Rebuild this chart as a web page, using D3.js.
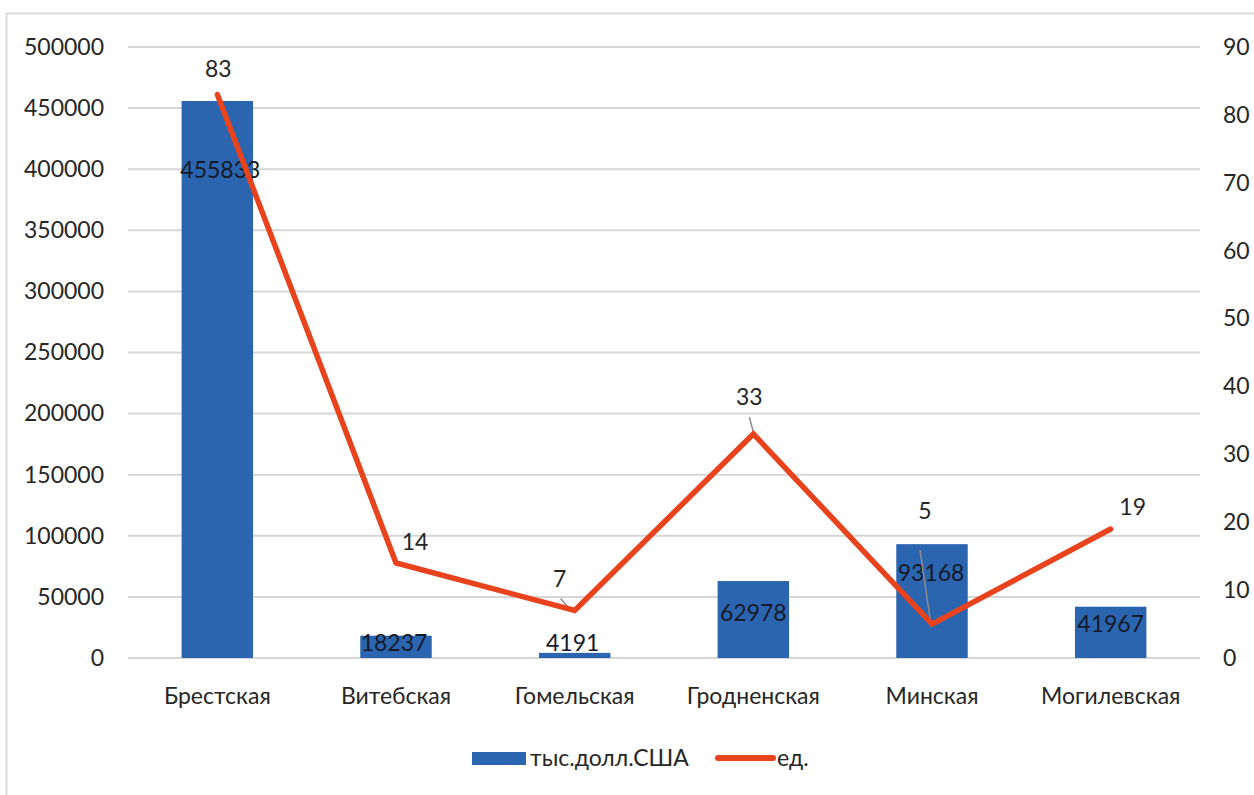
<!DOCTYPE html>
<html><head><meta charset="utf-8">
<script src="https://cdn.jsdelivr.net/npm/d3@7"></script>
<style>body{margin:0;background:#fff}svg{display:block}text{font-family:Lato,"Open Sans",sans-serif;fill:#262626}</style>
</head><body>
<script>
const categories = ["Брестская","Витебская","Гомельская","Гродненская","Минская","Могилевская"];
const usdValues = [455833, 18237, 4191, 62978, 93168, 41967];
const unitValues = [83, 14, 7, 33, 5, 19];
const leftTicks = [0,50000,100000,150000,200000,250000,300000,350000,400000,450000,500000];
const rightTicks = [0,10,20,30,40,50,60,70,80,90];
const seriesNames = ["тыс.долл.США","ед."];

// label layout (pixel offsets of manually placed data labels)
const barLabelDy = [69, 7, -10, 32, 29, 17];
const barLabelDx = [3, -2, -2, 0, -1, 0];
const lineLabelDx = [1, 19, -15, -4, -7, 22];
const lineLabelDy = [-26, -21, -32, -37, -113, -22];

const W = 1254, H = 795;
const svg = d3.select("body").append("svg").attr("width", W).attr("height", H);
svg.append("rect").attr("x",6.5).attr("y",13.5).attr("width",1300).attr("height",900)
  .attr("fill","none").attr("stroke","#d9d9d9").attr("stroke-width",2);

const x = d3.scaleBand().domain(categories).range([128,1200]).paddingInner(0).paddingOuter(0);
const yL = d3.scaleLinear().domain([0,500000]).range([658,47]);
const yR = d3.scaleLinear().domain([0,90]).range([658,47]);
const fs = 23;
const ff = "Lato,'Open Sans',sans-serif";

// gridlines
svg.append("g").selectAll("line").data(leftTicks).join("line")
  .attr("x1",128).attr("x2",1200).attr("y1",d=>yL(d)).attr("y2",d=>yL(d))
  .attr("stroke","#d6d6d6").attr("stroke-width",2);

// left axis
const gl = svg.append("g").attr("transform","translate(128,0)")
  .call(d3.axisLeft(yL).tickValues(leftTicks).tickSize(0).tickPadding(24).tickFormat(d3.format("d")));
gl.select(".domain").remove();
gl.selectAll("text").style("font-size",fs+"px").attr("fill","#404040").style("font-family",ff);

// right axis
const gr = svg.append("g").attr("transform","translate(1200,0)")
  .call(d3.axisRight(yR).tickValues(rightTicks).tickSize(0).tickPadding(23));
gr.select(".domain").remove();
gr.selectAll("text").style("font-size",fs+"px").attr("fill","#404040").style("font-family",ff);

// bottom axis
const gb = svg.append("g").attr("transform","translate(0,658)")
  .call(d3.axisBottom(x).tickSize(0).tickPadding(30));
gb.select(".domain").remove();
gb.selectAll("text").style("font-size",fs+"px").attr("fill","#404040").style("font-family",ff);

const bw = x.bandwidth();
const cx = c => x(c) + bw/2;

// bars
svg.append("g").selectAll("rect").data(categories).join("rect")
  .attr("x",c=>x(c)+bw*0.3).attr("width",bw*0.4)
  .attr("y",(c,i)=>yL(usdValues[i])).attr("height",(c,i)=>yL(0)-yL(usdValues[i]))
  .attr("fill","#2c65af");

// bar labels
svg.append("g").selectAll("text").data(categories).join("text")
  .attr("x",(c,i)=>cx(c)+barLabelDx[i])
  .attr("y",(c,i)=>yL(usdValues[i])+barLabelDy[i]+fs*0.36)
  .attr("text-anchor","middle").style("font-size",fs+"px").style("fill","#141a2a")
  .text((c,i)=>usdValues[i]);

// leader lines for line labels (for 7, 33, 5)
const leaders = [2,3,4];
svg.append("g").selectAll("line").data(leaders).join("line")
  .attr("x1",i=>cx(categories[i])+lineLabelDx[i]+ (i===4? -5 : i===2 ? 1 : 0))
  .attr("y1",i=>yR(unitValues[i])+lineLabelDy[i]+ (i===4? 39 : 20))
  .attr("x2",i=>cx(categories[i]) - (i===2?3:0) - (i===4?1:0))
  .attr("y2",i=>yR(unitValues[i]) + (i===3? -2 : 1))
  .attr("stroke","#8c8c8c").attr("stroke-width",1.5);

// line
const line = d3.line().x((d,i)=>cx(categories[i])).y(d=>yR(d));
svg.append("path").datum(unitValues).attr("d",line)
  .attr("fill","none").attr("stroke","#e8431c").attr("stroke-width",5.5).attr("stroke-linejoin","miter").attr("stroke-linecap","round");

// line labels
svg.append("g").selectAll("text").data(unitValues).join("text")
  .attr("x",(d,i)=>cx(categories[i])+lineLabelDx[i])
  .attr("y",(d,i)=>yR(d)+lineLabelDy[i]+fs*0.36)
  .attr("text-anchor","middle").style("font-size",fs+"px")
  .text(d=>d);

// legend
const lg = svg.append("g");
lg.append("rect").attr("x",472).attr("y",752).attr("width",54).attr("height",13).attr("fill","#2c65af");
lg.append("text").attr("x",530).attr("y",766).style("font-size",fs+"px").attr("fill","#404040").text(seriesNames[0]);
lg.append("line").attr("x1",718).attr("x2",773).attr("y1",758).attr("y2",758)
  .attr("stroke","#e8431c").attr("stroke-width",6).attr("stroke-linecap","round");
lg.append("text").attr("x",777).attr("y",766).style("font-size",fs+"px").attr("fill","#404040").text(seriesNames[1]);
</script>
</body></html>
